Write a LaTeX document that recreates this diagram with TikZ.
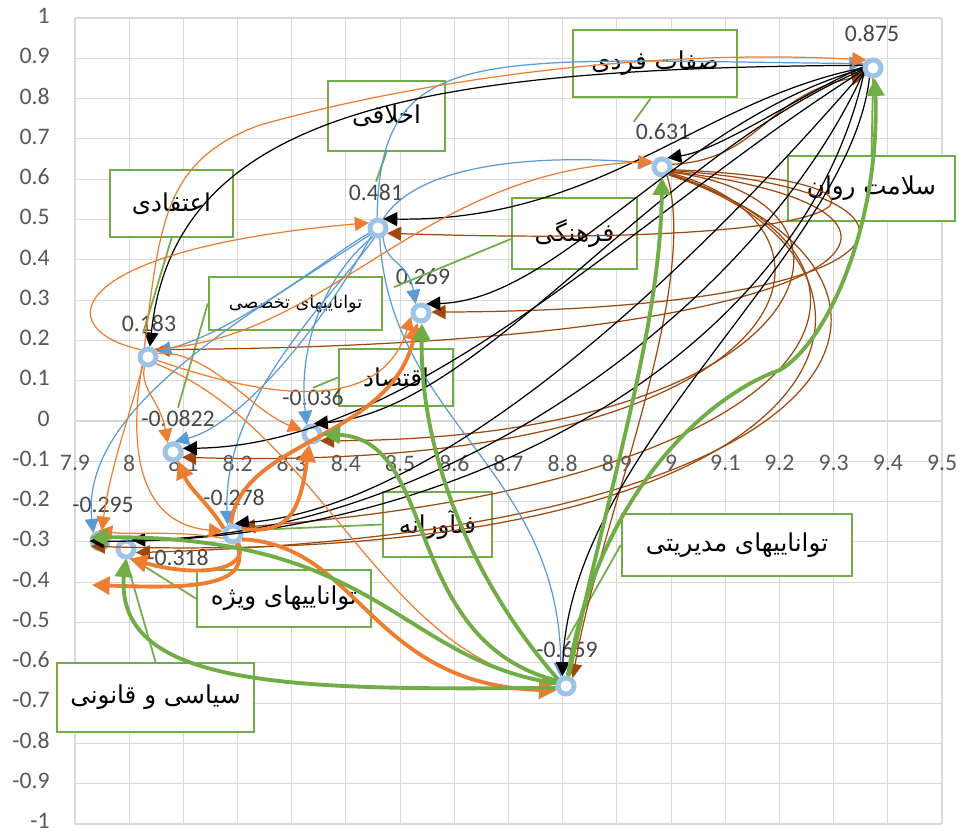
\documentclass[tikz,border=0pt]{standalone}
\usepackage{fontspec}
\setmainfont{Carlito}
\newfontfamily\farsi[Script=Arabic]{DejaVu Sans}
\TeXXeTstate=1
\usetikzlibrary{arrows.meta,positioning}

\definecolor{gridgray}{HTML}{D9D9D9}
\definecolor{labgray}{HTML}{595959}
\definecolor{xlblue}{HTML}{5B9BD5}
\definecolor{xlorange}{HTML}{ED7D31}
\definecolor{xlgreen}{HTML}{70AD47}
\definecolor{xlbrown}{HTML}{9E480E}
\definecolor{ringblue}{HTML}{9DC3E6}

\newcommand{\fatext}[1]{{\farsi\beginR #1\endR}}

\tikzset{
  grd/.style={gridgray,line width=0.6pt},
  ylab/.style={anchor=east,text=labgray,font=\fontsize{13.5}{15}\selectfont,inner sep=0pt},
  xlab/.style={text=labgray,font=\fontsize{13.5}{15}\selectfont,inner sep=0pt},
  dlab/.style={text=labgray!80!black,font=\fontsize{13.5}{15}\selectfont,inner sep=1pt},
  callout/.style={draw=xlgreen,line width=1.4pt,fill=white,inner sep=0pt,font=\fontsize{14}{16}\selectfont},
  ptmark/.style={circle,draw=ringblue,fill=white,line width=0.1cm,minimum size=0.32cm,inner sep=0pt},
  leader/.style={xlgreen,line width=1pt},
  thn/.style={line width=0.7pt,-{Triangle[length=8pt,width=8pt]}},
  thk/.style={line width=2.2pt,-{Triangle[length=10pt,width=10pt]}},
  blk/.style={thn,black},
  blu/.style={thn,xlblue},
  org/.style={thn,xlorange},
  brn/.style={thn,xlbrown},
  orgthk/.style={thk,xlorange},
  grnthk/.style={thk,xlgreen}
}

\begin{document}
\begin{tikzpicture}[x=0.02cm,y=-0.02cm]
\path[use as bounding box,fill=white] (0,0) rectangle (959,834);

% grid and axes
\foreach \i in {0,...,16}
  \draw[grd] ({75+\i*54.1875},18) -- ({75+\i*54.1875},824);
\foreach \j in {0,...,20}
  \draw[grd] (75,{18+\j*40.3}) -- (942,{18+\j*40.3});
\foreach \lab [count=\j from 0] in {1,0.9,0.8,0.7,0.6,0.5,0.4,0.3,0.2,0.1,0,-0.1,-0.2,-0.3,-0.4,-0.5,-0.6,-0.7,-0.8,-0.9,-1}
  \node[ylab] (yl\j) at (50,{16+\j*40.25}) {\lab};
\foreach \lab [count=\i from 0] in {7.9,8,8.1,8.2,8.3,8.4,8.5,8.6,8.7,8.8,8.9,9,9.1,9.2,9.3,9.4,9.5}
  \node[xlab] (xl\i) at ({75+\i*54.1875},463) {\lab};

% callouts
\node[callout,minimum width=3.28cm,minimum height=1.34cm] (bSefat) at (655,63.5) {\fatext{صفات فردی}};
\node[callout,minimum width=2.34cm,minimum height=1.4cm] (bAkhlaghi) at (386.5,116) {\fatext{اخلاقی}};
\node[callout,minimum width=2.46cm,minimum height=1.34cm] (bEteghadi) at (171.5,203.5) {\fatext{اعتقادی}};
\node[callout,minimum width=2.5cm,minimum height=1.42cm] (bFarhangi) at (574.5,233.5) {\fatext{فرهنگی}};
\node[callout,minimum width=3.34cm,minimum height=1.3cm] (bSalamat) at (871.5,188.5) {\fatext{سلامت روان}};
\node[callout,minimum width=3.46cm,minimum height=1.06cm,font=\fontsize{10}{12}\selectfont] (bTakhasosi) at (295.5,303.5) {\fatext{تواناییهای تخصصی}};
\node[callout,minimum width=2.28cm,minimum height=1.14cm] (bEghtesad) at (396,377.5) {\fatext{اقتصاد}};
\node[callout,minimum width=2.18cm,minimum height=1.3cm] (bFanavarane) at (437.5,524.5) {\fatext{فنآورانه}};
\node[callout,minimum width=4.6cm,minimum height=1.24cm] (bModiriyati) at (737,545) {\fatext{تواناییهای مدیریتی}};
\node[callout,minimum width=3.48cm,minimum height=1.14cm] (bVizhe) at (284,598.5) {\fatext{تواناییهای ویژه}};
\node[callout,minimum width=3.94cm,minimum height=1.38cm] (bSiasi) at (155.5,697.5) {\fatext{سیاسی و قانونی}};

% points
\node[ptmark] (n875) at (873,68) {};
\node[ptmark] (n631) at (662,167) {};
\node[ptmark] (n481) at (378,228) {};
\node[ptmark] (n269) at (421,313) {};
\node[ptmark] (n183) at (148,357) {};
\node[ptmark] (n036) at (312,434) {};
\node[ptmark] (n082) at (173,452) {};
\node[ptmark] (n278) at (233,534) {};
\node[ptmark] (n295) at (100,541) {};
\node[ptmark] (n318) at (126,549) {};
\node[ptmark] (n659) at (566,686) {};

\node[dlab] (l875) at (872,33) {0.875};
\node[dlab] (l631) at (663,132) {0.631};
\node[dlab] (l481) at (376,192) {0.481};
\node[dlab] (l269) at (423,277) {0.269};
\node[dlab] (l183) at (149,323) {0.183};
\node[dlab] (l036) at (313,398) {-0.036};
\node[dlab] (l082) at (178,418) {-0.0822};
\node[dlab] (l278) at (234,497) {-0.278};
\node[dlab] (l295) at (103,505) {-0.295};
\node[dlab] (l318) at (178,557) {-0.318};
\node[dlab] (l659) at (567,650) {-0.659};

\draw[leader] (bSefat.263) -- (l631.north west);
\draw[leader] (bAkhlaghi.south) -- (l481.north);
\draw[leader] (bEteghadi.south) -- (l183.240);
\draw[leader] (bFarhangi.185) -- (l269.south west);
\draw[leader] (bSalamat.north) -- (n875.south);
\draw[leader] (bTakhasosi.west) -- (l082.north);
\draw[leader] (bEghtesad.west) -- (l036.north);
\draw[leader] (bFanavarane.west) -- (n278.20);
\draw[leader] (bModiriyati.west) -- (l659.north);
\draw[leader] (bVizhe.west) -- (n318.300);
\draw[leader] (bSiasi.north) -- (n318.south);

% from 0.631
\draw[brn] (n631.15) .. controls (760,160) and (765,95) .. (n875.225);
\draw[brn] (n631.345) .. controls (930,180) and (900,250) .. (n481.330);
\draw[brn] (n631.340) .. controls (960,190) and (940,310) .. (n269.5);
\draw[brn] (n631.335) .. controls (990,210) and (880,345) .. (n183.45);
\draw[brn] (n631.330) .. controls (900,200) and (820,440) .. (n036.320);
\draw[brn] (n631.325) .. controls (880,230) and (800,475) .. (n082.330);
\draw[brn] (n631.320) .. controls (930,260) and (850,480) .. (n278.40);
\draw[brn] (n631.315) .. controls (960,270) and (900,530) .. (n318.340);
\draw[brn] (n631.310) .. controls (940,260) and (880,570) .. (n295.210);
\draw[brn] (n631.300) .. controls (700,290) and (600,520) .. (n659.50);

% from 0.481
\draw[blu] (n481.95) .. controls (380,40) and (480,60) .. (n875.155);
\draw[blu] (n481.60) .. controls (420,160) and (550,155) .. (n631.160);
\draw[blu] (n481.300) .. controls (385,265) and (408,260) .. (n269.120);
\draw[blu] (n481.210) .. controls (330,255) and (240,330) .. (n183.30);
\draw[blu] (n481.240) .. controls (330,270) and (297,340) .. (n036.120);
\draw[blu] (n481.230) .. controls (320,330) and (240,425) .. (n082.80);
\draw[blu] (n481.250) .. controls (330,300) and (222,400) .. (n278.120);
\draw[blu] (n481.220) .. controls (240,320) and (80,410) .. (n295.130);
\draw[blu] (n481.280) .. controls (390,420) and (560,470) .. (n659.120);

% from 0.875
\draw[blk] (n875.175) .. controls (800,95) and (720,150) .. (n631.60);
\draw[blk] (n875.180) .. controls (700,100) and (600,222) .. (n481.60);
\draw[blk] (n875.185) .. controls (680,120) and (560,300) .. (n269.60);
\draw[blk] (n875.165) .. controls (420,68) and (175,110) .. (n183.80);
\draw[blk] (n875.190) .. controls (650,160) and (480,410) .. (n036.80);
\draw[blk] (n875.195) .. controls (640,210) and (420,445) .. (n082.20);
\draw[blk] (n875.200) .. controls (700,260) and (450,505) .. (n278.80);
\draw[blk] (n875.205) .. controls (760,300) and (450,535) .. (n318.60);
\draw[blk] (n875.210) .. controls (800,360) and (450,545) .. (n295.180);
\draw[blk] (n875.250) .. controls (850,250) and (570,450) .. (n659.110);

% from 0.183
\draw[org] (n183.110) .. controls (160,220) and (165,160) .. (260,125) .. controls (420,80) and (650,48) .. (n875.130);
\draw[org] (n183.50) .. controls (330,340) and (420,170) .. (n631.150);
\draw[org] (n183.135) .. controls (50,330) and (60,250) .. (n481.150);
\draw[org] (n183.340) .. controls (330,420) and (390,385) .. (n269.200);
\draw[org] (n183.20) .. controls (210,350) and (250,410) .. (n036.160);
\draw[org] (n183.250) .. controls (140,390) and (160,400) .. (n082.120);
\draw[org] (n183.235) .. controls (125,470) and (150,525) .. (n278.165);
\draw[org] (n183.240) .. controls (125,430) and (110,470) .. (n295.80);
\draw[org] (n183.320) .. controls (320,430) and (380,650) .. (n659.170);
\draw[org] (n278.205) .. controls (180,530) and (130,535) .. (n295.100);

% from -0.278
\coordinate (t295) at (92,585);
\draw[orgthk] (n278.100) .. controls (240,440) and (390,440) .. (n269.250);
\draw[orgthk] (n278.30) .. controls (290,535) and (300,510) .. (n036.255);
\draw[orgthk] (n278.150) .. controls (210,505) and (190,490) .. (n082.300);
\draw[orgthk] (n278.300) .. controls (250,570) and (200,578) .. (n318.290);
\draw[orgthk] (n278.290) .. controls (255,590) and (180,588) .. (t295);
\draw[orgthk] (n278.330) .. controls (360,545) and (370,685) .. (n659.205);

% from -0.659
\draw[grnthk] (n659.80) .. controls (600,480) and (720,390) .. (780,370) .. controls (830,340) and (880,220) .. (n875.280);
\draw[grnthk] (n659.75) .. controls (610,480) and (660,330) .. (n631.270);
\draw[grnthk] (n659.140) .. controls (470,580) and (420,450) .. (n269.275);
\draw[grnthk] (n659.150) .. controls (400,640) and (440,440) .. (n036.0);
\draw[grnthk] (n659.165) .. controls (400,660) and (380,535) .. (n295.160);
\draw[grnthk] (n659.190) .. controls (300,690) and (115,690) .. (n318.265);

\end{tikzpicture}
\end{document}
